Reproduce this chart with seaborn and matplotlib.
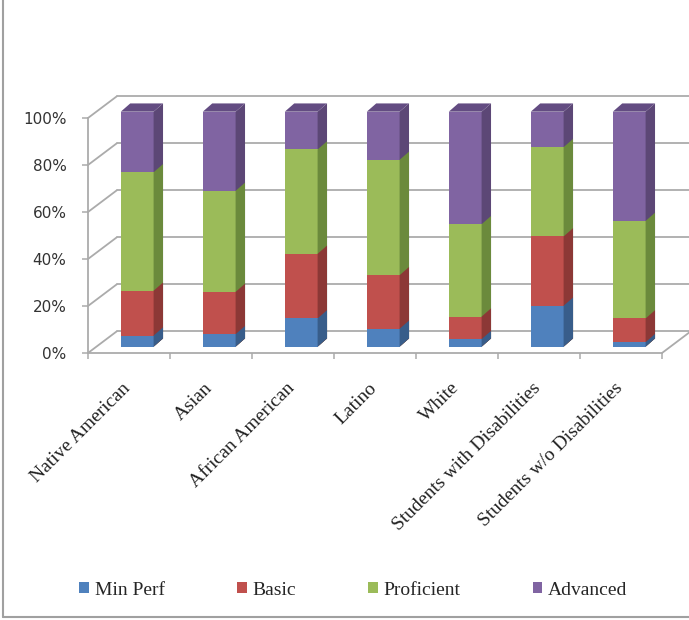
import matplotlib
matplotlib.use("Agg")
import matplotlib.pyplot as plt
from matplotlib.patches import Polygon, Patch
from matplotlib.lines import Line2D
import matplotlib.transforms as mtransforms
import pandas as pd
import seaborn as sns

# data (percent of students)
groups = ["Native American", "Asian", "African American", "Latino", "White",
          "Students with Disabilities", "Students w/o Disabilities"]
levels = ["Min Perf", "Basic", "Proficient", "Advanced"]
min_perf = [4.7, 5.3, 12.0, 7.6, 3.2, 17.4, 1.9]
basic = [19.1, 18.0, 27.5, 22.8, 9.6, 29.5, 10.1]
proficient = [50.4, 43.0, 44.4, 49.1, 39.3, 38.0, 41.5]
advanced = [25.8, 33.7, 16.1, 20.5, 47.9, 15.1, 46.5]

colors = ["#4F81BD", "#C0504D", "#9BBB59", "#8064A2"]
side_colors = ["#385D8A", "#8C3836", "#6B8A3C", "#5C4776"]
top_color = "#634C82"
grid_color = "#ABABAB"

# fake 3d offsets (data units)
WALL_DX, WALL_DY = 0.35, 9.2
BAR_DX, BAR_DY = 0.10, 2.7
DEPTH_DX, DEPTH_DY = 0.115, 3.5

df = pd.DataFrame({"group": groups, "Min Perf": min_perf, "Basic": basic,
                   "Proficient": proficient, "Advanced": advanced})
cum = df[levels].cumsum(axis=1)

sns.set_style("white")
fig = plt.figure(figsize=(6.89, 6.2), dpi=100)
ax = fig.add_axes([88 / 689, 1 - 353 / 620, 574 / 689, 235 / 620])

z = 3
# draw from the top cumulative down so lower segments overlay
for i in reversed(range(len(levels))):
    n0 = len(ax.patches)
    sns.barplot(x=df["group"], y=cum[levels[i]], color=colors[i], saturation=1,
                width=0.4, ax=ax, zorder=z)
    new = ax.patches[n0:]
    for p in new:
        p.set_transform(mtransforms.Affine2D().translate(BAR_DX, BAR_DY) + ax.transData)
        p.set_zorder(z)
        p.set_clip_on(False)
        p.set_edgecolor("none")
        x0 = p.get_x() + BAR_DX
        x1 = x0 + p.get_width()
        h = p.get_height() + BAR_DY
        y0 = BAR_DY
        side = Polygon([(x1, y0), (x1, h), (x1 + DEPTH_DX, h + DEPTH_DY),
                        (x1 + DEPTH_DX, y0 + DEPTH_DY)], closed=True,
                       facecolor=side_colors[i], edgecolor="none",
                       zorder=z, clip_on=False)
        ax.add_patch(side)
        if i == len(levels) - 1:
            top = Polygon([(x0, h), (x1, h), (x1 + DEPTH_DX, h + DEPTH_DY),
                           (x0 + DEPTH_DX, h + DEPTH_DY)], closed=True,
                          facecolor=top_color, edgecolor="none",
                          zorder=z, clip_on=False)
            ax.add_patch(top)
    z += 1

ax.set_xlim(-0.5, len(groups) - 0.5)
ax.set_ylim(0, 100)

# back wall gridlines, side wall diagonals and floor
yt = [0, 20, 40, 60, 80, 100]
xl, xr = -0.5, len(groups) - 0.5
for v in yt:
    ax.plot([xl + WALL_DX, xr + WALL_DX], [v + WALL_DY, v + WALL_DY],
            color=grid_color, lw=1.3, clip_on=False, zorder=1)
    ax.plot([xl, xl + WALL_DX], [v, v + WALL_DY],
            color=grid_color, lw=1.3, clip_on=False, zorder=1)
ax.plot([xr, xr + WALL_DX], [0, WALL_DY], color=grid_color, lw=1.3,
        clip_on=False, zorder=1)

for s in ["top", "right"]:
    ax.spines[s].set_visible(False)
for s in ["left", "bottom"]:
    ax.spines[s].set_color(grid_color)
    ax.spines[s].set_linewidth(1.3)

ax.set_yticks(yt)
ax.set_yticklabels([f"{v}%" for v in yt], fontsize=11, color="#333333",
                   family="DejaVu Sans")
ax.tick_params(axis="y", direction="out", length=4.5, width=1.1,
               color=grid_color, pad=11, left=True)
ax.set_xticks(range(len(groups)))
ax.set_xticklabels(groups, rotation=45, ha="right", rotation_mode="anchor",
                   fontsize=14, family="Liberation Serif", color="#222222")
ax.set_xticks([i - 0.5 for i in range(len(groups) + 1)], minor=True)
ax.tick_params(axis="x", which="major", length=0, pad=17)
ax.tick_params(axis="x", which="minor", direction="out", length=4.5,
               width=1.1, color=grid_color, bottom=True)
ax.set_xlabel("")
ax.set_ylabel("")
# nudge the rotated labels a bit left/down like the original
shift = mtransforms.ScaledTranslation(-0.07, -0.03, fig.dpi_scale_trans)
for lab in ax.get_xticklabels():
    lab.set_transform(lab.get_transform() + shift)

handles = [Patch(facecolor=c, edgecolor="none") for c in colors]
fig.legend(handles, levels, loc="center", bbox_to_anchor=(0.513, 0.048),
           ncol=4, frameon=False, prop={"family": "Liberation Serif", "size": 14},
           handlelength=0.5, handleheight=0.5, handletextpad=0.3,
           columnspacing=3.7)

# chart border (left and bottom visible)
fig.add_artist(Line2D([3 / 689, 3 / 689], [3 / 620, 1], color="#A0A0A0", lw=1.5))
fig.add_artist(Line2D([3 / 689, 1], [3 / 620, 3 / 620], color="#A0A0A0", lw=1.5))

fig.savefig("out.png", dpi=100)
